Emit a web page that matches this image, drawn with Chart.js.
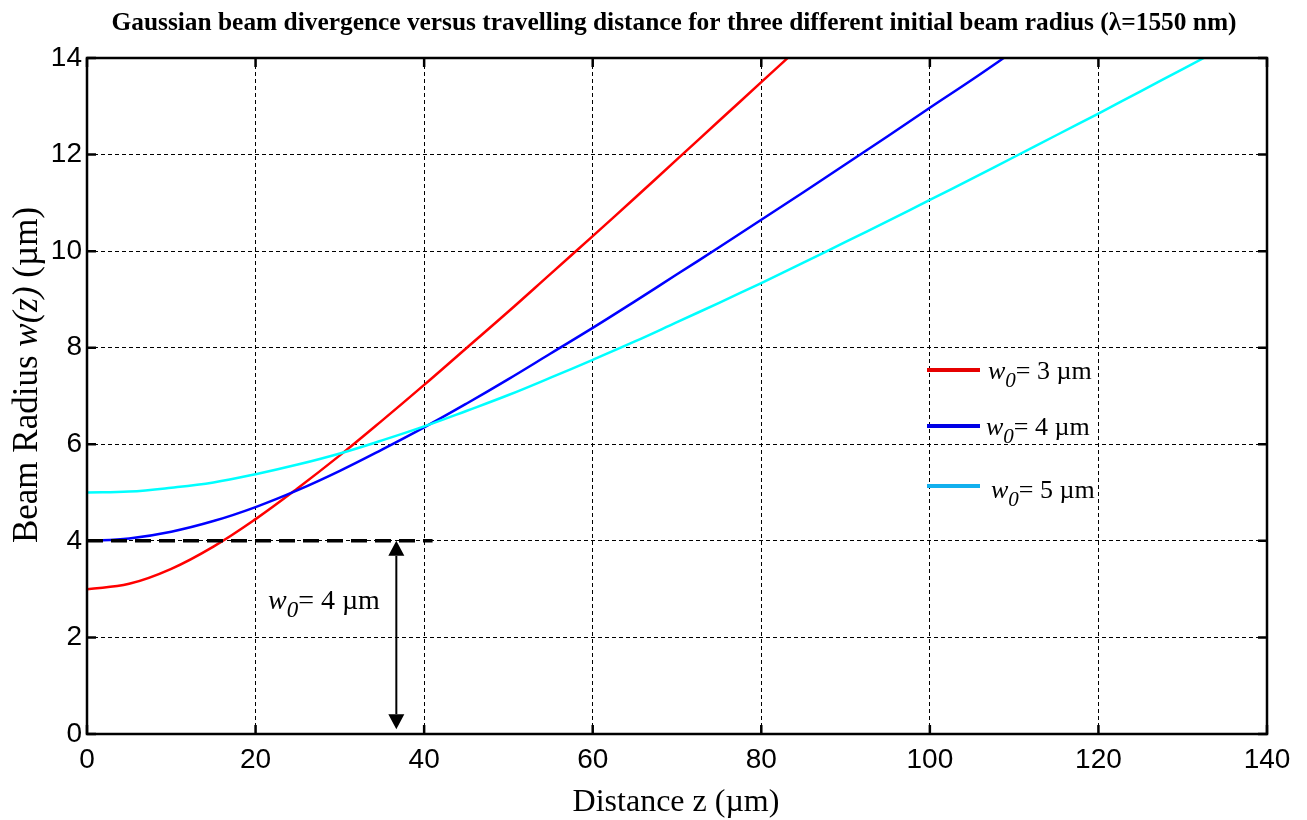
<!DOCTYPE html>
<html>
<head>
<meta charset="utf-8">
<title>Gaussian beam divergence</title>
<script src="https://cdn.jsdelivr.net/npm/chart.js@4.4.1/dist/chart.umd.min.js"></script>
<style>
  html, body { margin: 0; padding: 0; background: #fff; }
  #wrap { width: 1307px; height: 820px; }
</style>
</head>
<body>
<div id="wrap"><canvas id="beamChart" width="1307" height="820"></canvas></div>
<script>
// distance along z (µm), sampled every 5 µm
const distance = [0, 5, 10, 15, 20, 25, 30, 35, 40, 45, 50, 55, 60, 65, 70, 75, 80, 85, 90, 95, 100, 105, 110, 115, 120, 125, 130, 135];

// beam radius w(z) in µm for each waist size
const radiusW3 = [3.00, 3.11, 3.42, 3.88, 4.45, 5.09, 5.77, 6.49, 7.23, 7.99, 8.75, 9.53, 10.31, 11.10, 11.90, 12.70, 13.50, 14.30];
const radiusW4 = [4.00, 4.05, 4.19, 4.41, 4.70, 5.05, 5.45, 5.89, 6.35, 6.84, 7.35, 7.88, 8.41, 8.96, 9.52, 10.08, 10.65, 11.22, 11.80, 12.38, 12.97, 13.55, 14.15];
const radiusW5 = [5.00, 5.02, 5.10, 5.21, 5.38, 5.58, 5.81, 6.08, 6.37, 6.69, 7.02, 7.38, 7.75, 8.13, 8.53, 8.93, 9.34, 9.76, 10.19, 10.62, 11.06, 11.50, 11.95, 12.40, 12.85, 13.31, 13.77, 14.23];

const seriesNames = ['3', '4', '5'];
const xTicks = [0, 20, 40, 60, 80, 100, 120, 140];
const yTicks = [0, 2, 4, 6, 8, 10, 12, 14];

// waist marker: dashed level at w0 = 4 µm and the double arrow under it
const waistLineZ = [0, 41];
const waistLineW = [4, 4];
const arrowZ = 36.7;
const arrowRange = [0.1, 4];

const SERIF = '"Liberation Serif", "Times New Roman", serif';
const SANS = '"Liberation Sans", Arial, sans-serif';

function toPoints(xs, ys) {
  return ys.map((y, i) => ({ x: xs[i], y: y }));
}

// w0 label with italic w and subscript 0
function drawW0(ctx, x, y, size, value) {
  ctx.textAlign = 'left';
  ctx.textBaseline = 'alphabetic';
  ctx.font = `italic ${size}px ${SERIF}`;
  ctx.fillText('w', x, y);
  x += ctx.measureText('w').width;
  ctx.font = `italic ${Math.round(size * 0.82)}px ${SERIF}`;
  ctx.fillText('0', x, y + size * 0.3);
  x += ctx.measureText('0').width;
  ctx.font = `${size}px ${SERIF}`;
  ctx.fillText(`= ${value} µm`, x, y);
}

const decorations = {
  id: 'decorations',
  afterDraw(chart) {
    const ctx = chart.ctx;
    const area = chart.chartArea;
    const xs = chart.scales.x;
    const ys = chart.scales.y;
    ctx.save();
    ctx.fillStyle = '#000';
    ctx.strokeStyle = '#000';

    // box and inward ticks
    ctx.lineWidth = 2.5;
    ctx.setLineDash([]);
    ctx.strokeRect(area.left, area.top, area.right - area.left, area.bottom - area.top);
    const tl = 9;
    ctx.beginPath();
    xTicks.forEach(v => {
      const px = xs.getPixelForValue(v);
      ctx.moveTo(px, area.bottom); ctx.lineTo(px, area.bottom - tl);
      ctx.moveTo(px, area.top); ctx.lineTo(px, area.top + tl);
    });
    yTicks.forEach(v => {
      const py = ys.getPixelForValue(v);
      ctx.moveTo(area.left, py); ctx.lineTo(area.left + tl, py);
      ctx.moveTo(area.right, py); ctx.lineTo(area.right - tl, py);
    });
    ctx.stroke();

    // double-headed arrow for the waist
    const ax = xs.getPixelForValue(arrowZ);
    const aBottom = ys.getPixelForValue(arrowRange[0]);
    const aTop = ys.getPixelForValue(arrowRange[1]);
    const hl = 15, hw = 8;
    ctx.lineWidth = 2;
    ctx.beginPath();
    ctx.moveTo(ax, aTop + hl);
    ctx.lineTo(ax, aBottom - hl);
    ctx.stroke();
    ctx.beginPath();
    ctx.moveTo(ax, aTop); ctx.lineTo(ax - hw, aTop + hl); ctx.lineTo(ax + hw, aTop + hl); ctx.closePath();
    ctx.moveTo(ax, aBottom); ctx.lineTo(ax - hw, aBottom - hl); ctx.lineTo(ax + hw, aBottom - hl); ctx.closePath();
    ctx.fill();
    drawW0(ctx, 268, 609, 28, '4');

    // legend
    const legendRows = [
      { color: '#e60000', lineY: 370, textX: 988, baseY: 379 },
      { color: '#0000e6', lineY: 426, textX: 986, baseY: 435 },
      { color: '#12b0ee', lineY: 486, textX: 991, baseY: 498 }
    ];
    legendRows.forEach((row, i) => {
      ctx.strokeStyle = row.color;
      ctx.lineWidth = 4;
      ctx.beginPath();
      ctx.moveTo(927, row.lineY);
      ctx.lineTo(980, row.lineY);
      ctx.stroke();
      ctx.fillStyle = '#000';
      drawW0(ctx, row.textX, row.baseY, 26, seriesNames[i]);
    });

    // title, squeezed to its width
    ctx.fillStyle = '#000';
    ctx.font = `bold 25px ${SERIF}`;
    const title = 'Gaussian beam divergence versus travelling distance for three different initial beam radius (λ=1550 nm)';
    const tw = ctx.measureText(title).width;
    ctx.save();
    ctx.translate(674, 30);
    ctx.scale(1125 / tw, 1);
    ctx.textAlign = 'center';
    ctx.textBaseline = 'alphabetic';
    ctx.fillText(title, 0, 0);
    ctx.restore();

    // x axis title
    ctx.font = `32px ${SERIF}`;
    ctx.textAlign = 'center';
    ctx.textBaseline = 'alphabetic';
    ctx.fillText('Distance z (µm)', 676, 811);

    // y axis title with italic w(z)
    const parts = [
      { t: 'Beam Radius ', f: `35px ${SERIF}` },
      { t: 'w(z)', f: `italic 35px ${SERIF}` },
      { t: ' (µm)', f: `35px ${SERIF}` }
    ];
    let total = 0;
    parts.forEach(p => { ctx.font = p.f; p.w = ctx.measureText(p.t).width; total += p.w; });
    ctx.save();
    ctx.translate(37, 375);
    ctx.rotate(-Math.PI / 2);
    ctx.textAlign = 'left';
    let cx = -total / 2;
    parts.forEach(p => { ctx.font = p.f; ctx.fillText(p.t, cx, 0); cx += p.w; });
    ctx.restore();

    ctx.restore();
  }
};

const ctx = document.getElementById('beamChart').getContext('2d');
new Chart(ctx, {
  type: 'line',
  data: {
    datasets: [
      {
        label: 'waist level',
        data: toPoints(waistLineZ, waistLineW),
        borderColor: '#000',
        borderWidth: 3.5,
        borderDash: [16, 8],
        pointRadius: 0,
        tension: 0,
        order: 0
      },
      {
        label: 'w0 = 5 µm',
        data: toPoints(distance, radiusW5),
        borderColor: '#00ffff',
        borderWidth: 2.5,
        pointRadius: 0,
        tension: 0.4,
        order: 1
      },
      {
        label: 'w0 = 4 µm',
        data: toPoints(distance, radiusW4),
        borderColor: '#0000ff',
        borderWidth: 2.5,
        pointRadius: 0,
        tension: 0.4,
        order: 2
      },
      {
        label: 'w0 = 3 µm',
        data: toPoints(distance, radiusW3),
        borderColor: '#ff0000',
        borderWidth: 2.5,
        pointRadius: 0,
        tension: 0.4,
        order: 3
      }
    ]
  },
  options: {
    responsive: false,
    animation: false,
    devicePixelRatio: 1,
    layout: { padding: { top: 58, right: 40, left: 0, bottom: 0 } },
    plugins: {
      legend: { display: false },
      title: { display: false },
      tooltip: { enabled: false }
    },
    scales: {
      x: {
        type: 'linear',
        min: 0,
        max: 140,
        afterBuildTicks: scale => { scale.ticks = xTicks.map(v => ({ value: v })); },
        afterFit: scale => { scale.height = 86; },
        ticks: {
          color: '#000',
          font: { family: SANS, size: 28 },
          padding: 9,
          maxRotation: 0
        },
        grid: { color: '#000', lineWidth: 1, drawTicks: false },
        border: { display: false, dash: [4, 3] }
      },
      y: {
        type: 'linear',
        min: 0,
        max: 14,
        afterBuildTicks: scale => { scale.ticks = yTicks.map(v => ({ value: v })); },
        afterFit: scale => { scale.width = 87; },
        ticks: {
          color: '#000',
          font: { family: SANS, size: 28 },
          padding: 5
        },
        grid: { color: '#000', lineWidth: 1, drawTicks: false },
        border: { display: false, dash: [4, 3] }
      }
    }
  },
  plugins: [decorations]
});
</script>
</body>
</html>
